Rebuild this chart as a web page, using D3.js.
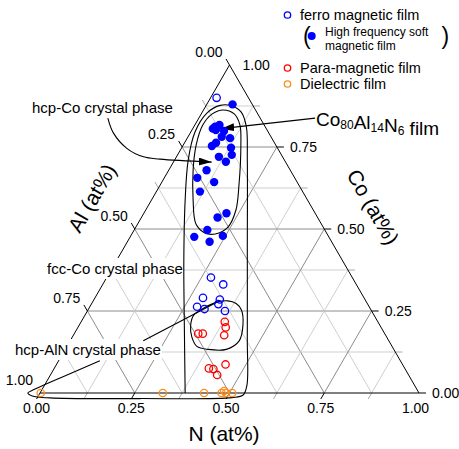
<!DOCTYPE html>
<html>
<head>
<meta charset="utf-8">
<script src="https://cdn.jsdelivr.net/npm/d3@7"></script>
<style>
  body { margin: 0; background: #fff; }
  svg { display: block; }
  text { font-family: "Liberation Sans", Arial, sans-serif; fill: #000; }
</style>
</head>
<body>
<div id="chart"></div>
<script>
// compositions as [Co, Al, N] fractions
const softFilms = [
  [0.880, 0.052, 0.068], [0.812, 0.132, 0.056], [0.817, 0.118, 0.065], [0.802, 0.135, 0.063],
  [0.806, 0.141, 0.053], [0.799, 0.115, 0.086], [0.781, 0.130, 0.089], [0.777, 0.110, 0.113],
  [0.763, 0.154, 0.083], [0.753, 0.170, 0.077], [0.748, 0.122, 0.130], [0.720, 0.168, 0.112],
  [0.726, 0.131, 0.143], [0.705, 0.157, 0.138], [0.679, 0.221, 0.100], [0.656, 0.257, 0.087],
  [0.643, 0.219, 0.138], [0.614, 0.271, 0.115], [0.548, 0.234, 0.218], [0.535, 0.264, 0.201],
  [0.497, 0.310, 0.193], [0.476, 0.355, 0.169], [0.461, 0.322, 0.217], [0.479, 0.278, 0.243]
];
const ferroFilms = [
  [0.900, 0.084, 0.016], [0.352, 0.373, 0.275], [0.331, 0.351, 0.318], [0.290, 0.425, 0.285],
  [0.263, 0.454, 0.283], [0.256, 0.438, 0.306], [0.285, 0.383, 0.332], [0.271, 0.394, 0.335],
  [0.250, 0.387, 0.363]
];
const paraFilms = [
  [0.181, 0.492, 0.327], [0.181, 0.480, 0.339], [0.217, 0.404, 0.379], [0.200, 0.410, 0.390],
  [0.176, 0.426, 0.398], [0.075, 0.517, 0.408], [0.073, 0.506, 0.421], [0.055, 0.505, 0.440],
  [0.087, 0.467, 0.446]
];
const dielectricFilms = [
  [0, 0.998, 0.002], [0, 0.676, 0.324], [0, 0.567, 0.433], [0, 0.521, 0.479],
  [0.006, 0.511, 0.483], [0, 0.509, 0.491], [0, 0.493, 0.507]
];

const tickValues = [0, 0.25, 0.5, 0.75, 1];
const tickLabels = ['0.00', '0.25', '0.50', '0.75', '1.00'];
const gridValues = [0.125, 0.25, 0.375, 0.5, 0.625, 0.75, 0.875];

// outlines as [N, Co]
const hcpCoLoop = [
  [0.052, 0.863], [0.087, 0.851], [0.119, 0.817], [0.152, 0.756], [0.208, 0.634], [0.238, 0.558],
  [0.243, 0.506], [0.220, 0.485], [0.191, 0.488], [0.154, 0.515], [0.110, 0.588], [0.064, 0.680],
  [0.034, 0.756], [0.021, 0.817], [0.029, 0.851]
];
const tallLoop = [
  [0.383, 0], [0.285, 0.192], [0.177, 0.405], [0.089, 0.588], [0.036, 0.710], [0.011, 0.796],
  [0.014, 0.854], [0.037, 0.877], [0.069, 0.875], [0.102, 0.857], [0.139, 0.811], [0.192, 0.710],
  [0.329, 0.436], [0.466, 0.162], [0.534, 0.024], [0.539, -0.006], [0.514, -0.014], [0.272, -0.017],
  [0.034, -0.015], [-0.016, -0.009], [-0.032, 0], [-0.019, 0.012], [0.030, 0.046], [0.109, 0.098]
];
const alnLoop = [
  [0.328, 0.277], [0.355, 0.281], [0.381, 0.273], [0.405, 0.253], [0.432, 0.207], [0.446, 0.159],
  [0.425, 0.133], [0.377, 0.133], [0.343, 0.142], [0.315, 0.171], [0.294, 0.207], [0.287, 0.238],
  [0.303, 0.259]
];
const alnLeader = [[0.193, 0.159], [0.328, 0.277]];
const hcpCoArrow = [[-0.240, 0.838], [-0.203, 0.793], [-0.144, 0.746], [-0.087, 0.720], [-0.040, 0.713], [0.101, 0.704]];
const filmArrow = [[0.307, 0.838], [0.075, 0.806]];

const width = 459, height = 449;
const x = d3.scaleLinear().domain([0, 1]).range([40, 419]);
const y = d3.scaleLinear().domain([0, 1]).range([393, 65]);
const pt = (n, co) => [x(n + co / 2), y(co)];
const ptc = d => pt(d[2], d[0]);

const svg = d3.select('#chart').append('svg')
  .attr('width', width).attr('height', height);

svg.append('defs').append('marker')
  .attr('id', 'head')
  .attr('markerUnits', 'userSpaceOnUse')
  .attr('markerWidth', 14).attr('markerHeight', 10)
  .attr('refX', 13).attr('refY', 4)
  .attr('orient', 'auto')
  .append('path').attr('d', 'M0,0L13,4L0,8Z').attr('fill', '#000');

// grid + ticks
const gridG = svg.append('g');
const tickLen = 7;
const dirs = {
  co: [1, 0],
  n: [-0.5, 0.866],
  al: [-0.5, -0.866]
};
gridValues.forEach(v => {
  const major = Math.abs(v * 4 - Math.round(v * 4)) < 1e-6;
  const col = major ? '#8c8c8c' : '#cfcfcf';
  const lines = [
    [pt(0, v), pt(1 - v, v), pt(1 - v, v), 'co'],
    [pt(v, 1 - v), pt(v, 0), pt(v, 0), 'n'],
    [pt(1 - v, 0), pt(0, 1 - v), pt(0, 1 - v), 'al']
  ];
  lines.forEach(([a, b, t, k]) => {
    gridG.append('line')
      .attr('x1', a[0]).attr('y1', a[1]).attr('x2', b[0]).attr('y2', b[1])
      .attr('stroke', col).attr('stroke-width', 1);
    gridG.append('line')
      .attr('x1', t[0]).attr('y1', t[1])
      .attr('x2', t[0] + dirs[k][0] * tickLen).attr('y2', t[1] + dirs[k][1] * tickLen)
      .attr('stroke', major ? '#000' : '#aaa').attr('stroke-width', 1);
  });
});
// end ticks at the corners
[[pt(1, 0), 'co'], [pt(0, 0), 'n'], [pt(0, 1), 'al']].forEach(([t, k]) => {
  gridG.append('line')
    .attr('x1', t[0]).attr('y1', t[1])
    .attr('x2', t[0] + dirs[k][0] * tickLen).attr('y2', t[1] + dirs[k][1] * tickLen)
    .attr('stroke', '#000');
});

svg.append('path')
  .attr('d', 'M' + [pt(0, 0), pt(1, 0), pt(0, 1)].join('L') + 'Z')
  .attr('fill', 'none').attr('stroke', '#000').attr('stroke-width', 1);

// tick labels
const tl = svg.append('g').style('font-size', '14px');
tickValues.forEach((v, i) => {
  const b = pt(v, 0);
  tl.append('text').attr('x', b[0] - 3.5).attr('y', b[1] + 20)
    .attr('text-anchor', 'middle').text(tickLabels[i]);
  const r = pt(1 - v, v);
  tl.append('text').attr('x', r[0] + 13).attr('y', r[1] + 5)
    .text(tickLabels[i]);
  const l = pt(0, 1 - v);
  tl.append('text').attr('x', l[0] - 7).attr('y', l[1] - 8)
    .attr('text-anchor', 'end').text(tickLabels[i]);
});

// axis titles
svg.append('text').attr('x', 224).attr('y', 441).attr('text-anchor', 'middle')
  .style('font-size', '21px').text('N (at%)');
svg.append('text').attr('transform', 'translate(92,198) rotate(-60)').attr('text-anchor', 'middle')
  .attr('dy', '0.35em').style('font-size', '21px').text('Al (at%)');
svg.append('text').attr('transform', 'translate(373,207) rotate(60)').attr('text-anchor', 'middle')
  .attr('dy', '0.35em').style('font-size', '21px').text('Co (at%)');

// labels with white backing
const labelG = svg.append('g').style('font-size', '15px');
const addLabel = (tx, ty, s, backed) => {
  const t = labelG.append('text').attr('x', tx).attr('y', ty).text(s);
  if (backed) {
    const bb = t.node().getBBox();
    labelG.insert('rect', () => t.node())
      .attr('x', bb.x - 1).attr('y', bb.y - 2).attr('width', bb.width + 2).attr('height', bb.height + 4)
      .attr('fill', '#fff');
  }
};
addLabel(32, 113, 'hcp-Co crystal phase', false);
addLabel(47, 274, 'fcc-Co crystal phase', true);
addLabel(15, 355, 'hcp-AlN crystal phase', true);

// outlines
const toPx = d => pt(d[0], d[1]);
const closed = d3.line().curve(d3.curveCatmullRomClosed.alpha(0.5));
const open = d3.line().curve(d3.curveCatmullRom.alpha(0.5));
const lineG = svg.append('g').attr('fill', 'none').attr('stroke', '#000').attr('stroke-width', 1.1);
lineG.append('path').attr('d', closed(hcpCoLoop.map(toPx)));
lineG.append('path').attr('d', open(tallLoop.map(toPx)));
lineG.append('path').attr('d', closed(alnLoop.map(toPx)));
lineG.append('path').attr('d', d3.line()(alnLeader.map(toPx)));

// points
const pts = svg.append('g');
const drawSet = (data, color, filled) => {
  pts.selectAll(null).data(data).join('circle')
    .attr('cx', d => ptc(d)[0]).attr('cy', d => ptc(d)[1])
    .attr('r', filled ? 4.2 : 3.7)
    .attr('fill', filled ? color : 'none')
    .attr('stroke', filled ? 'none' : color)
    .attr('stroke-width', 1.3);
};
drawSet(ferroFilms, '#0000ff', false);
drawSet(paraFilms, '#ff0000', false);
drawSet(dielectricFilms, '#ff8c1a', false);
drawSet(softFilms, '#0000ff', true);

// arrows
lineG.append('path').attr('d', open(hcpCoArrow.map(toPx))).attr('marker-end', 'url(#head)');
lineG.append('path').attr('d', d3.line()(filmArrow.map(toPx))).attr('marker-end', 'url(#head)');

// film label with subscripts
const ft = svg.append('text').attr('x', 316).attr('y', 126).style('font-size', '19px');
[['Co', 0], ['80', 1], ['Al', 0], ['14', 1], ['N', 0], ['6', 1], [' film', 0]].forEach(([s, sub]) => {
  ft.append('tspan').attr('dy', sub ? 3 : null).style('font-size', sub ? '12px' : null).text(s);
  if (sub) ft.append('tspan').attr('dy', -3).text('');
});

// legend
const legendItems = [
  { label: 'ferro magnetic film', color: '#0000ff', y: 15 },
  { label: 'Para-magnetic film', color: '#ff0000', y: 68 },
  { label: 'Dielectric film', color: '#ff8c1a', y: 84 }
];
const lg = svg.append('g');
legendItems.forEach(d => {
  lg.append('circle').attr('cx', 287.5).attr('cy', d.y).attr('r', 3.2)
    .attr('fill', 'none').attr('stroke', d.color).attr('stroke-width', 1.3);
  lg.append('text').attr('x', 300).attr('y', d.y + 5).style('font-size', '14.5px').text(d.label);
});
lg.append('text').attr('x', 303).attr('y', 43.5).style('font-size', '23px').text('(');
lg.append('text').attr('x', 441.5).attr('y', 43.5).style('font-size', '23px').text(')');
lg.append('circle').attr('cx', 311.7).attr('cy', 36).attr('r', 4).attr('fill', '#0000ff');
lg.append('text').attr('x', 325).attr('y', 36).style('font-size', '12px').text('High frequency soft');
lg.append('text').attr('x', 325).attr('y', 49.5).style('font-size', '12px').text('magnetic film');
</script>
</body>
</html>
